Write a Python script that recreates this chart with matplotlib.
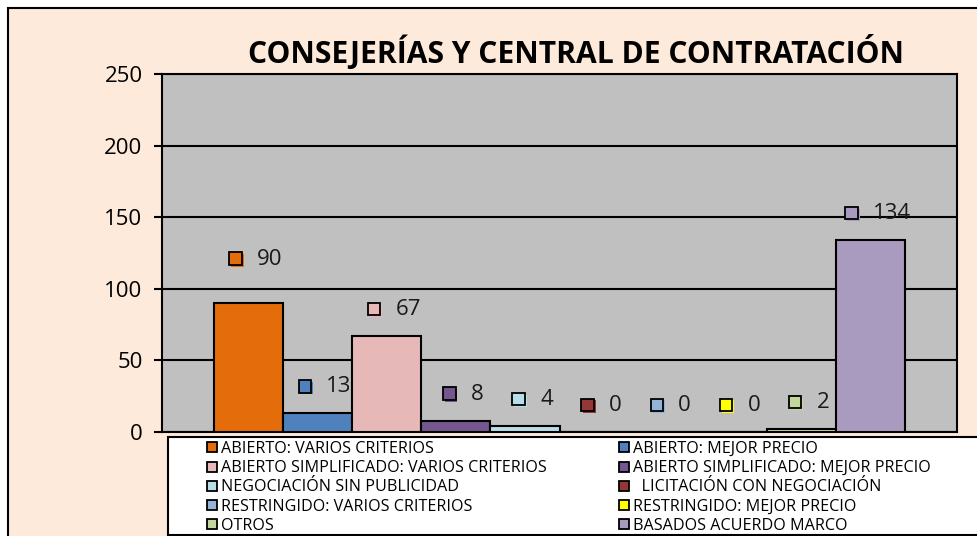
import matplotlib.pyplot as plt
from matplotlib.patches import Rectangle
from matplotlib.lines import Line2D
from matplotlib.offsetbox import DrawingArea, TextArea, HPacker, AnnotationBbox

plt.rcParams['font.family'] = ['Open Sans', 'DejaVu Sans']

title = 'CONSEJERÍAS Y CENTRAL DE CONTRATACIÓN'
series = ['ABIERTO: VARIOS CRITERIOS', 'ABIERTO: MEJOR PRECIO',
          'ABIERTO SIMPLIFICADO: VARIOS CRITERIOS', 'ABIERTO SIMPLIFICADO: MEJOR PRECIO',
          'NEGOCIACIÓN SIN PUBLICIDAD', '  LICITACIÓN CON NEGOCIACIÓN',
          'RESTRINGIDO: VARIOS CRITERIOS', 'RESTRINGIDO: MEJOR PRECIO',
          'OTROS', 'BASADOS ACUERDO MARCO']
values = [90, 13, 67, 8, 4, 0, 0, 0, 2, 134]
colors = ['#E46C0A', '#4F81BD', '#E6B9B8', '#76568F', '#B7DEE8',
          '#953735', '#95B3D7', '#FFFF00', '#C3D69B', '#A99BC0']
yticks = [0, 50, 100, 150, 200, 250]

W, H = 977, 536
fig = plt.figure(figsize=(W / 100, H / 100), dpi=100)
fig.patch.set_facecolor('white')

# chart area background (peach, framed)
fig.patches.append(Rectangle((8 / W, -0.1), 1.2, 1.1 - 8 / H, transform=fig.transFigure,
                             facecolor='#FDEADA', edgecolor='black', lw=1.5, zorder=-5))

ax = fig.add_axes([162 / W, 1 - 432 / H, (957 - 162) / W, (432 - 74) / H])
ax.set_facecolor('#C0C0C0')

x = list(range(len(values)))
ax.bar(x, values, width=1.0, color=colors, edgecolor='black', lw=1.5, zorder=3)

ax.set_xlim(-1.25, 10.25)
ax.set_ylim(0, 250)
ax.set_yticks(yticks)
ax.set_xticks([])
ax.yaxis.grid(True, color='black', lw=1.5, zorder=1)
ax.set_axisbelow(True)
ax.tick_params(axis='y', labelsize=16, length=6, width=1.5, pad=8, colors='black')
for s in ax.spines.values():
    s.set_linewidth(1.5)
    s.set_color('black')

# value labels with a legend key in front
for i, v in enumerate(values):
    da = DrawingArea(10, 10, 0, 0)
    da.add_artist(Rectangle((1.3, -0.3), 9, 9, facecolor=colors[i], edgecolor='none'))
    da.add_artist(Rectangle((0, 1), 9, 9, facecolor=colors[i], edgecolor='black', lw=1.3))
    ta = TextArea(str(v), textprops=dict(fontsize=16, color='#1a1a1a'))
    box = HPacker(children=[da, ta], sep=10, align='center', pad=0)
    dy = 31.5 if i == 0 else 19
    ab = AnnotationBbox(box, (i, v), xybox=(5.5, dy), xycoords='data', boxcoords='offset points',
                        frameon=False, box_alignment=(0.5, 0.5), zorder=5)
    ax.add_artist(ab)

fig.text(576 / W, 1 - 63 / H, title, ha='center', va='baseline', fontsize=21.6,
         fontweight='bold', color='black')

# legend box
fig.patches.append(Rectangle((168 / W, 1 / H), 1, (535 - 437) / H, transform=fig.transFigure,
                             facecolor='white', edgecolor='black', lw=1.5, zorder=1))
handles = [Line2D([], [], ls='none', marker='s', markersize=7.5, markerfacecolor=c,
                  markeredgecolor='black', markeredgewidth=1.3) for c in colors]
order = [0, 2, 4, 6, 8, 1, 3, 5, 7, 9]
leg = fig.legend([handles[k] for k in order], [series[k] for k in order], ncol=2,
                 loc='upper left', bbox_to_anchor=(206 / W, 1 - 441 / H), frameon=False,
                 fontsize=11.6, handlelength=0.7, handletextpad=0.25, columnspacing=4.4,
                 labelspacing=0.2, borderpad=0, borderaxespad=0)
leg.set_zorder(2)

fig.savefig('out.png', dpi=100)
